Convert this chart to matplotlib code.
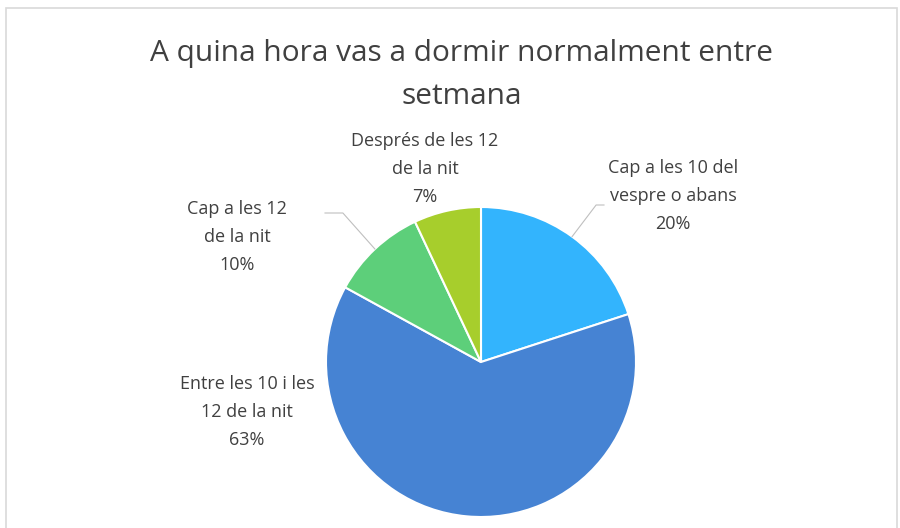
import numpy as np
import matplotlib
matplotlib.use('Agg')
import matplotlib.pyplot as plt
from matplotlib.patches import Rectangle

# Datos
labels = ['Cap a les 10 del\nvespre o abans', 'Entre les 10 i les\n12 de la nit',
          'Cap a les 12\nde la nit', 'Després de les 12\nde la nit']
values = [20, 63, 10, 7]
colors = ['#33B4FD', '#4683D3', '#5DCF7A', '#A7CE2C']

# posiciones de las etiquetas (pixeles) y si llevan linea guia
label_pos = [(673, 196), (247, 412), (237, 237), (425, 169)]
leader = [True, False, True, False]

W, H = 900, 528
fig = plt.figure(figsize=(9, 5.28), dpi=100)
ax = fig.add_axes([0, 0, 1, 1])

cx, cy, r = 481, H - 362, 155
wedges, _ = ax.pie(values, colors=colors, startangle=90, counterclock=False,
                   center=(cx, cy), radius=r, frame=True,
                   wedgeprops=dict(edgecolor='white', linewidth=1.5))
ax.set_xlim(0, W)
ax.set_ylim(0, H)
ax.set_aspect('equal')
ax.axis('off')

total = sum(values)
for w, lab, v, (lx, ly), ld in zip(wedges, labels, values, label_pos, leader):
    pct = round(v / total * 100)
    ax.text(lx, H - ly, lab + '\n' + f'{pct}%', ha='center', va='center',
            fontsize=13, color='#404040', family='Open Sans', linespacing=1.72)
    if ld:
        ang = np.deg2rad((w.theta1 + w.theta2) / 2)
        x0, y0 = cx + r * np.cos(ang), cy + r * np.sin(ang)
        if lx > cx:
            xm, ym, x1 = x0 + 24, H - 205, 604
        else:
            xm, ym, x1 = x0 - 32, H - 213, 325
        ax.plot([x0, xm, x1], [y0, ym, ym], color='#BFBFBF', lw=0.8)

ax.text(462, H - 75, 'A quina hora vas a dormir normalment entre\nsetmana',
        ha='center', va='center', fontsize=21.5, color='#404040',
        family='Open Sans', linespacing=1.65)

fig.patches.append(Rectangle((6 / W, -0.1), (W - 9) / W, 1 - 8 / H + 0.1,
                             transform=fig.transFigure, fill=False,
                             edgecolor='#D9D9D9', lw=1.2))

plt.savefig('out.png', dpi=100)
